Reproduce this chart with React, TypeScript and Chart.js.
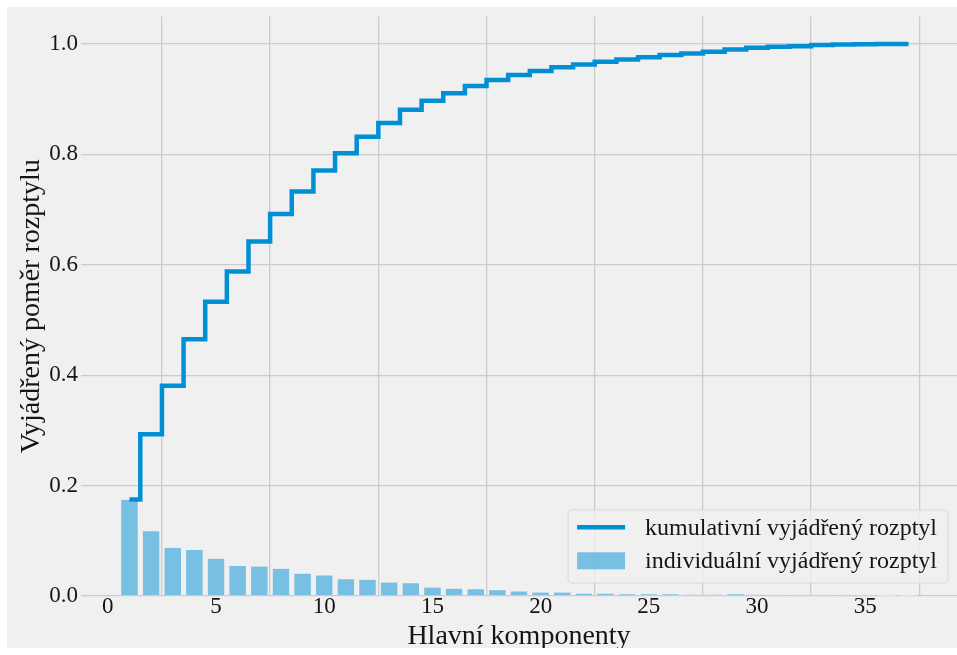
import React, { useEffect, useRef } from "react";
import { Chart, registerables } from "chart.js";

Chart.register(...registerables);

// Principal component index (1..37)
const components = [
  1, 2, 3, 4, 5, 6, 7, 8, 9, 10, 11, 12, 13, 14, 15, 16, 17, 18, 19, 20,
  21, 22, 23, 24, 25, 26, 27, 28, 29, 30, 31, 32, 33, 34, 35, 36, 37,
];

// Explained variance ratio of each component
const individualRatio = [
  0.175, 0.118, 0.088, 0.084, 0.068, 0.055, 0.054, 0.05, 0.041, 0.038,
  0.031, 0.03, 0.025, 0.024, 0.016, 0.014, 0.013, 0.011, 0.009, 0.007,
  0.007, 0.005, 0.005, 0.004, 0.004, 0.004, 0.003, 0.003, 0.004, 0.003,
  0.002, 0.001, 0.002, 0.001, 0.0006, 0.0002, 0.0002,
];

// Running total of the explained variance
const cumulativeRatio = individualRatio.reduce<number[]>((acc, v) => {
  acc.push((acc.length ? acc[acc.length - 1] : 0) + v);
  return acc;
}, []);

const xTickValues = [0, 5, 10, 15, 20, 25, 30, 35];
const yTickValues = [0, 0.2, 0.4, 0.6, 0.8, 1.0];

const cumulativeLabel = "kumulativní vyjádřený rozptyl";
const individualLabel = "individuální vyjádřený rozptyl";
const xTitle = "Hlavní komponenty";
const yTitle = "Vyjádřený poměr rozptylu";

const BLUE = "#008fd5";
const BAR_FILL = "rgba(0,143,213,0.5)";
const BG = "#f0f0f0";
const GRID = "#cbcbcb";
const TEXT = "#151515";
const FAMILY = '"Liberation Serif", "Times New Roman", serif';

// Framed legend in the lower right corner of the plot area
const boxLegend = {
  id: "boxLegend",
  afterDraw(chart: any) {
    const { ctx, chartArea } = chart;
    const datasets = chart.data.datasets;
    ctx.save();
    ctx.font = `24px ${FAMILY}`;
    const textW = Math.max(
      ...datasets.map((d: any) => ctx.measureText(d.label).width)
    );
    const padL = 9;
    const handleW = 48;
    const gap = 20;
    const padR = 11;
    const w = padL + handleW + gap + textW + padR;
    const h = 73;
    const x = chartArea.right - 9 - w;
    const y = chartArea.bottom - 13 - h;

    ctx.beginPath();
    ctx.roundRect(x, y, w, h, 4);
    ctx.fillStyle = "rgba(240,240,240,0.8)";
    ctx.fill();
    ctx.strokeStyle = "#d9d9d9";
    ctx.lineWidth = 1;
    ctx.stroke();

    const rows = [y + 17.3, y + 50.8];
    datasets.forEach((d: any, i: number) => {
      const cy = rows[i];
      if (d.type === "line") {
        ctx.beginPath();
        ctx.moveTo(x + padL, cy);
        ctx.lineTo(x + padL + handleW, cy);
        ctx.strokeStyle = d.borderColor;
        ctx.lineWidth = 4.5;
        ctx.stroke();
      } else {
        ctx.fillStyle = d.backgroundColor;
        ctx.fillRect(x + padL, cy - 8.5, handleW, 17);
      }
      ctx.fillStyle = TEXT;
      ctx.textAlign = "left";
      ctx.textBaseline = "middle";
      ctx.fillText(d.label, x + padL + handleW + gap, cy + 1);
    });
    ctx.restore();
  },
};

export default function App() {
  const canvasRef = useRef<HTMLCanvasElement | null>(null);

  useEffect(() => {
    const canvas = canvasRef.current;
    if (!canvas) return;
    const chart = new Chart(canvas, {
      type: "bar",
      data: {
        datasets: [
          {
            type: "line",
            label: cumulativeLabel,
            data: components.map((c, i) => ({ x: c, y: cumulativeRatio[i] })),
            borderColor: BLUE,
            backgroundColor: BLUE,
            borderWidth: 4.5,
            stepped: "middle",
            pointRadius: 0,
            fill: false,
            order: 0,
          } as any,
          {
            type: "bar",
            label: individualLabel,
            data: components.map((c, i) => ({ x: c, y: individualRatio[i] })),
            backgroundColor: BAR_FILL,
            borderColor: BG,
            borderWidth: 0.4,
            borderSkipped: false,
            barPercentage: 0.8,
            categoryPercentage: 1,
            order: 1,
          } as any,
        ],
      },
      options: {
        responsive: false,
        animation: false,
        devicePixelRatio: 1,
        layout: { padding: { top: 9.4, left: 0, right: 0, bottom: 0 } },
        plugins: {
          legend: { display: false },
          tooltip: { enabled: false },
        },
        scales: {
          x: {
            type: "linear",
            min: -1.24,
            max: 39.24,
            bounds: "data",
            offset: false,
            afterBuildTicks: (scale: any) => {
              scale.ticks = xTickValues.map((v) => ({ value: v }));
            },
            afterFit: (scale: any) => {
              scale.height = 52;
              scale.paddingLeft = 0;
              scale.paddingRight = 0;
            },
            grid: {
              color: GRID,
              lineWidth: 1.3,
              drawTicks: false,
            },
            border: { display: false },
            ticks: {
              color: TEXT,
              padding: -3,
              font: { family: FAMILY, size: 23 },
              maxRotation: 0,
              autoSkip: false,
            },
            title: {
              display: true,
              text: xTitle,
              color: TEXT,
              font: { family: FAMILY, size: 28 },
              padding: { top: 0, bottom: -5 },
            },
          },
          y: {
            type: "linear",
            min: 0,
            max: 1.05,
            bounds: "data",
            afterBuildTicks: (scale: any) => {
              scale.ticks = yTickValues.map((v) => ({ value: v }));
            },
            afterFit: (scale: any) => {
              scale.width = 74;
              scale.paddingTop = 0;
              scale.paddingBottom = 0;
            },
            grid: {
              color: GRID,
              lineWidth: 1.3,
              drawTicks: false,
            },
            border: { display: false },
            ticks: {
              color: TEXT,
              padding: 3,
              font: { family: FAMILY, size: 23 },
              callback: (v: any) => Number(v).toFixed(1),
            },
            title: {
              display: true,
              text: yTitle,
              color: TEXT,
              font: { family: FAMILY, size: 28 },
              padding: { top: 8, bottom: 4 },
            },
          },
        },
      },
      plugins: [boxLegend],
    });
    return () => chart.destroy();
  }, []);

  return (
    <div
      style={{
        position: "absolute",
        left: 0,
        top: 0,
        width: 957,
        height: 655,
        background: "#ffffff",
        overflow: "hidden",
      }}
    >
      <div
        style={{
          position: "absolute",
          left: 7,
          top: 7,
          width: 950,
          height: 641,
          background: BG,
        }}
      >
        <canvas ref={canvasRef} width={950} height={641} />
      </div>
    </div>
  );
}
